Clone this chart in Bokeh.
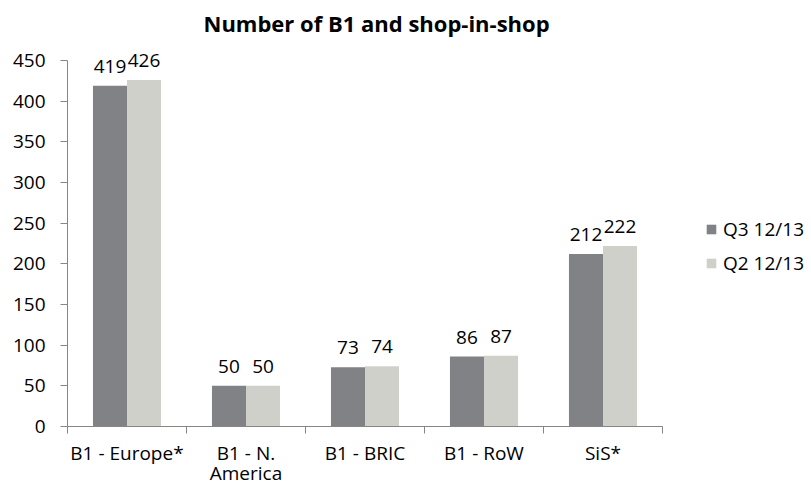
from bokeh.plotting import figure
from bokeh.models import (ColumnDataSource, Range1d, FixedTicker, Legend, LegendItem,
                          LabelSet, Label)
from bokeh.core.properties import value
from bokeh.embed import file_html
from bokeh.resources import INLINE
import numpy as np

title_text = "Number of B1 and shop-in-shop"
categories = ["B1 - Europe*", "B1 - N.\nAmerica", "B1 - BRIC", "B1 - RoW", "SiS*"]
q3_values = [419, 50, 73, 86, 212]
q2_values = [426, 50, 74, 87, 222]
series_names = ["Q3 12/13", "Q2 12/13"]
y_ticks = [0, 50, 100, 150, 200, 250, 300, 350, 400, 450]

DARK = "#808285"
LIGHT = "#D0D0CB"
AXIS = "#868686"
FONT = "Open Sans"
FS = "19px"

n = len(categories)
y_max = y_ticks[-1]
centers = np.arange(n) + 0.5
bw = 0.286

# layout (pixels)
W, H = 811, 491
LEFT, BOTTOM = 67, 65
TOP_GAP = 60          # pixels above the 450 tick (room for title / labels)
cat_px = 119.0
frame_w = W - LEFT
frame_h = H - BOTTOM
x_end = frame_w / cat_px
y_end = y_max * frame_h / (frame_h - TOP_GAP)

p = figure(width=W, height=H, output_backend="svg", toolbar_location=None,
           x_range=Range1d(0, x_end), y_range=Range1d(0, y_end),
           min_border_left=LEFT, min_border_top=0, min_border_right=0,
           min_border_bottom=BOTTOM)

src = ColumnDataSource(dict(
    x1=centers - bw / 2, x2=centers + bw / 2, q3=q3_values, q2=q2_values,
    l3=[str(v) for v in q3_values], l2=[str(v) for v in q2_values]))

r1 = p.vbar(x="x1", top="q3", width=bw, source=src, fill_color=DARK, line_color=None)
r2 = p.vbar(x="x2", top="q2", width=bw, source=src, fill_color=LIGHT, line_color=None)

for xf, yf, lf in [("x1", "q3", "l3"), ("x2", "q2", "l2")]:
    p.add_layout(LabelSet(x=xf, y=yf, text=lf, source=src, y_offset=13,
                          text_align="center", text_baseline="alphabetic",
                          text_font=value(FONT), text_font_size=value(FS),
                          text_color="#000000"))

# title drawn as a label at the top of the frame
p.add_layout(Label(x=203 - LEFT, y=frame_h - 22, x_units="screen", y_units="screen",
                   text=title_text, text_align="left", text_baseline="alphabetic",
                   text_font=FONT, text_font_size="22px", text_font_style="bold",
                   text_color="#000000"))

p.grid.visible = False
p.outline_line_color = None

# y axis
p.yaxis.ticker = FixedTicker(ticks=y_ticks)
p.yaxis.bounds = (0, y_max)
p.yaxis.axis_line_color = AXIS
p.yaxis.major_tick_line_color = AXIS
p.yaxis.major_tick_out = 7
p.yaxis.major_tick_in = 0
p.yaxis.minor_tick_line_color = None
p.yaxis.major_label_standoff = 15
p.yaxis.major_label_text_font = FONT
p.yaxis.major_label_text_font_size = FS
p.yaxis.major_label_text_color = "#000000"

# x axis: labels at category centres, ticks at category boundaries
p.xaxis.ticker = FixedTicker(ticks=list(centers), minor_ticks=list(range(n + 1)))
p.xaxis.major_label_overrides = {float(c): lab for c, lab in zip(centers, categories)}
p.xaxis.bounds = (0, n)
p.xaxis.axis_line_color = AXIS
p.xaxis.major_tick_out = 0
p.xaxis.major_tick_in = 0
p.xaxis.minor_tick_out = 7
p.xaxis.minor_tick_in = 0
p.xaxis.minor_tick_line_color = AXIS
p.xaxis.major_label_standoff = 6
p.xaxis.major_label_text_font = FONT
p.xaxis.major_label_text_font_size = FS
p.xaxis.major_label_text_line_height = 0.78
p.xaxis.major_label_text_color = "#000000"

legend = Legend(items=[LegendItem(label=series_names[0], renderers=[r1]),
                       LegendItem(label=series_names[1], renderers=[r2])],
                location=(705 - LEFT, 150), padding=0, margin=0, spacing=8,
                glyph_width=12, glyph_height=12, label_height=24, label_standoff=6,
                border_line_color=None, background_fill_alpha=0,
                label_text_font=FONT, label_text_font_size=FS, label_text_color="#000000")
p.add_layout(legend, "center")

open("out.html", "w").write(file_html(p, INLINE))
